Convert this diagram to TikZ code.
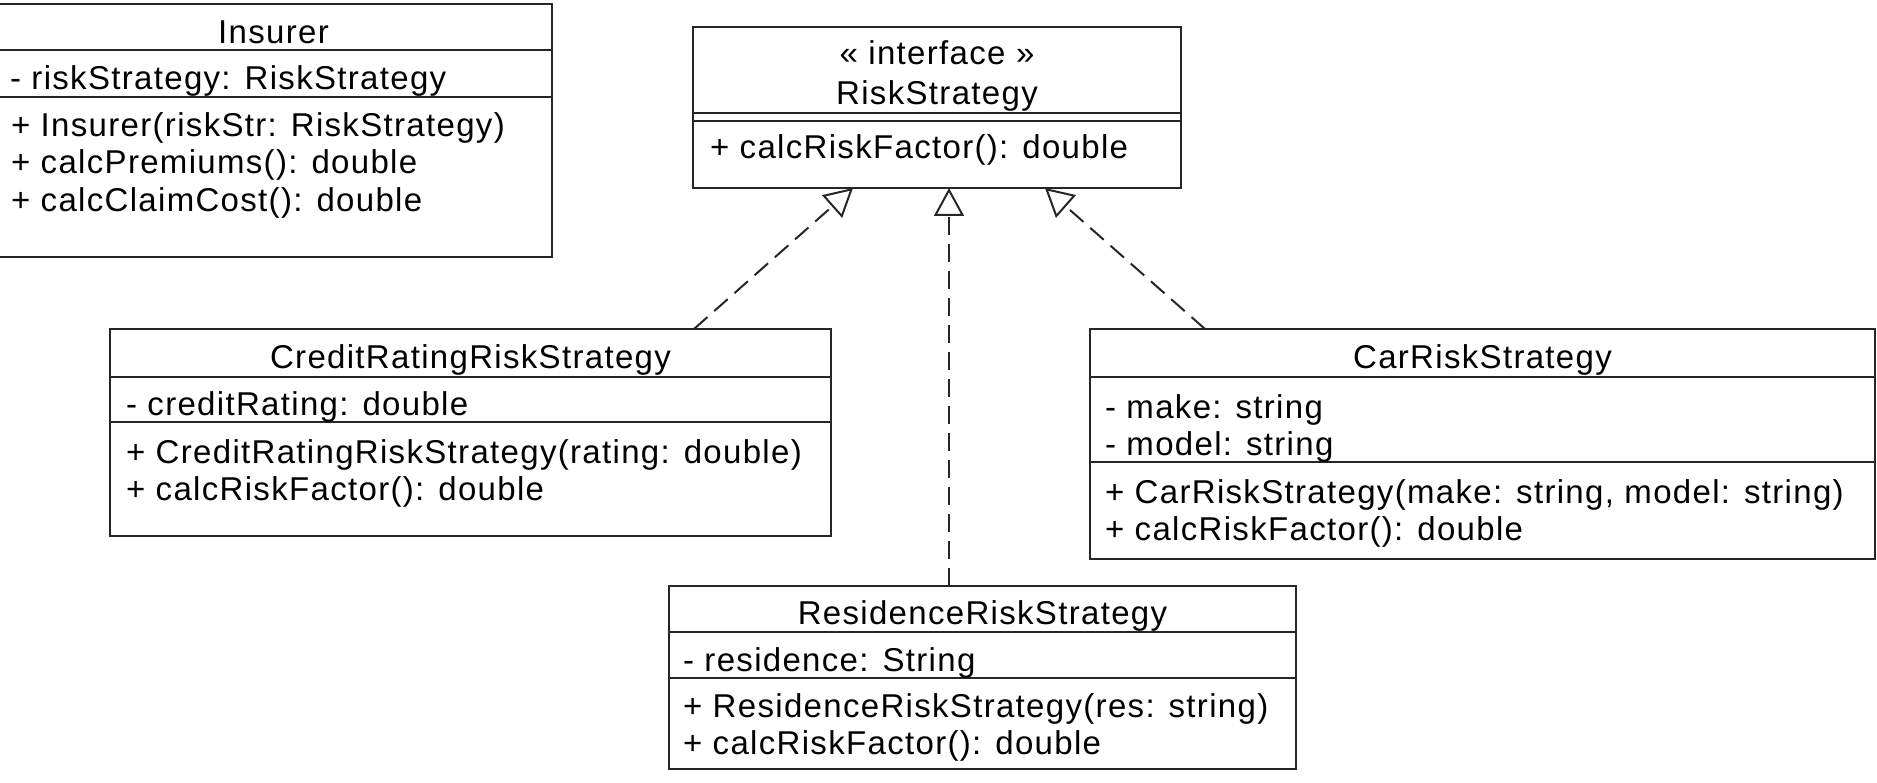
\documentclass[tikz,border=0pt]{standalone}
\usepackage{fontspec}
\setmainfont{Liberation Sans}[LetterSpace=4.0]
\usetikzlibrary{arrows.meta}
\begin{document}
\begin{tikzpicture}[x=1pt,y=-1pt,
  classbox/.style={draw=black!85, line width=2.3pt, inner sep=0pt, outer sep=0pt, anchor=north west, rectangle},
  sepline/.style={draw=black!85, line width=2.3pt},
  txt/.style={inner sep=0pt, outer sep=0pt, font=\fontsize{33}{37}\selectfont, text=black},
  realize/.style={draw=black!85, line width=2pt, dash pattern=on 18pt off 9pt,
    -{Triangle[open, length=28pt, width=30pt, line width=2pt]}}
]
\useasboundingbox (0,0) rectangle (1877,783);

% ---------- Insurer ----------
\node[classbox, minimum width=557pt, minimum height=253pt] (ins) at (-5,4) {};
\draw[sepline] (ins.west |- 0,50) -- (ins.east |- 0,50);
\draw[sepline] (ins.west |- 0,97) -- (ins.east |- 0,97);
\node[txt, anchor=base] (insN) at (273.5,44) {Insurer};
\node[txt, anchor=base west] (insA) at (10,90) {- riskStrategy: RiskStrategy};
\node[txt, anchor=base west] (insM1) at (11,137) {+ Insurer(riskStr: RiskStrategy)};
\node[txt, anchor=base west] (insM2) at (11,174) {+ calcPremiums(): double};
\node[txt, anchor=base west] (insM3) at (11,212) {+ calcClaimCost(): double};

% ---------- RiskStrategy ----------
\node[classbox, minimum width=488pt, minimum height=161pt] (risk) at (693,27) {};
\draw[sepline] (risk.west |- 0,113) -- (risk.east |- 0,113);
\draw[sepline] (risk.west |- 0,121) -- (risk.east |- 0,121);
\node[txt, anchor=base] (riskS) at (937,65) {« interface »};
\node[txt, anchor=base] (riskN) at (937,105) {RiskStrategy};
\node[txt, anchor=base west] (riskM) at (710,159) {+ calcRiskFactor(): double};

% ---------- CreditRatingRiskStrategy ----------
\node[classbox, minimum width=721pt, minimum height=207pt] (credit) at (110,329) {};
\draw[sepline] (credit.west |- 0,377) -- (credit.east |- 0,377);
\draw[sepline] (credit.west |- 0,422) -- (credit.east |- 0,422);
\node[txt, anchor=base] (creditN) at (470.5,369) {CreditRatingRiskStrategy};
\node[txt, anchor=base west] (creditA) at (126,416) {- creditRating: double};
\node[txt, anchor=base west] (creditM1) at (126,463) {+ CreditRatingRiskStrategy(rating: double)};
\node[txt, anchor=base west] (creditM2) at (126,500) {+ calcRiskFactor(): double};

% ---------- CarRiskStrategy ----------
\node[classbox, minimum width=785pt, minimum height=230pt] (car) at (1090,329) {};
\draw[sepline] (car.west |- 0,377) -- (car.east |- 0,377);
\draw[sepline] (car.west |- 0,462) -- (car.east |- 0,462);
\node[txt, anchor=base] (carN) at (1482.5,369) {CarRiskStrategy};
\node[txt, anchor=base west] (carA1) at (1105,418) {- make: string};
\node[txt, anchor=base west] (carA2) at (1105,455) {- model: string};
\node[txt, anchor=base west] (carM1) at (1105,503) {+ CarRiskStrategy(make: string, model: string)};
\node[txt, anchor=base west] (carM2) at (1105,540) {+ calcRiskFactor(): double};

% ---------- ResidenceRiskStrategy ----------
\node[classbox, minimum width=627pt, minimum height=183pt] (res) at (669,586) {};
\draw[sepline] (res.west |- 0,632) -- (res.east |- 0,632);
\draw[sepline] (res.west |- 0,678) -- (res.east |- 0,678);
\node[txt, anchor=base] (resN) at (982.5,624) {ResidenceRiskStrategy};
\node[txt, anchor=base west] (resA) at (683,671) {- residence: String};
\node[txt, anchor=base west] (resM1) at (683,717) {+ ResidenceRiskStrategy(res: string)};
\node[txt, anchor=base west] (resM2) at (683,754) {+ calcRiskFactor(): double};

% ---------- realizations ----------
\draw[realize] ([xshift=584pt]credit.north west) -- ([xshift=160pt]risk.south west);
\draw[realize] ([xshift=280pt]res.north west) -- ([xshift=256pt]risk.south west);
\draw[realize] ([xshift=115pt]car.north west) -- ([xshift=352pt]risk.south west);
\end{tikzpicture}
\end{document}
